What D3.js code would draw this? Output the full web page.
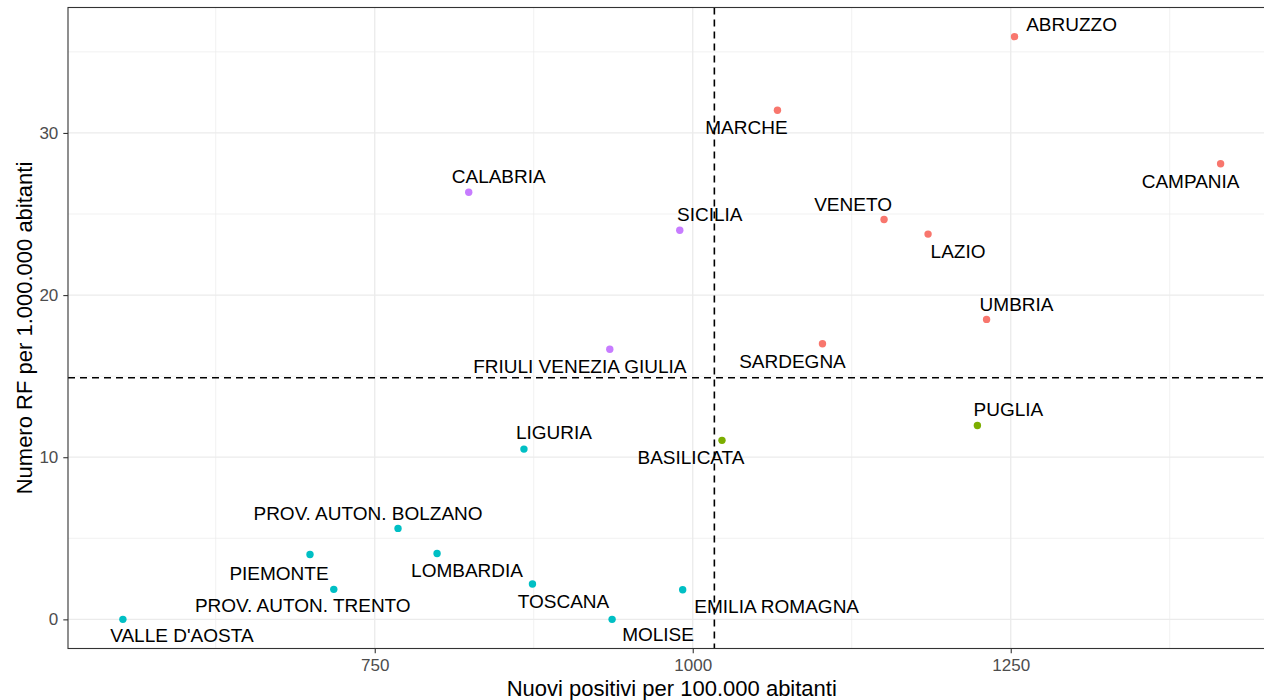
<!DOCTYPE html>
<html>
<head>
<meta charset="utf-8">
<script src="https://cdn.jsdelivr.net/npm/d3@7"></script>
<style>
	body { margin: 0; background: #fff; }
	svg { display: block; font-family: "Liberation Sans", Arial, sans-serif; }
</style>
</head>
<body>
<svg id="chart" width="1264" height="700"></svg>
<script>
// -------------- DATA --------------
const regioni = [
	"ABRUZZO", "CAMPANIA", "LAZIO", "MARCHE", "VENETO", "UMBRIA", "SARDEGNA",
	"PUGLIA", "BASILICATA", "FRIULI VENEZIA GIULIA", "CALABRIA", "SICILIA",
	"LIGURIA", "PROV. AUTON. BOLZANO", "PIEMONTE", "LOMBARDIA",
	"PROV. AUTON. TRENTO", "VALLE D'AOSTA", "TOSCANA", "MOLISE", "EMILIA ROMAGNA"
];
const positivi = [
	1253, 1415, 1185, 1066.6, 1150.4, 1231, 1102,
	1223.8, 1023, 934.8, 823.9, 989.8,
	867.3, 768.3, 699.1, 799,
	717.8, 552, 874, 936.6, 992.1
];
const rf = [
	35.94, 28.1, 23.76, 31.4, 24.66, 18.5, 17.0,
	11.96, 11.04, 16.66, 26.34, 24.0,
	10.5, 5.61, 4.0, 4.06,
	1.85, 0, 2.18, 0, 1.83
];
const gruppo = [
	"alto-alto", "alto-alto", "alto-alto", "alto-alto", "alto-alto", "alto-alto", "alto-alto",
	"alto-basso", "alto-basso", "basso-alto", "basso-alto", "basso-alto",
	"basso-basso", "basso-basso", "basso-basso", "basso-basso",
	"basso-basso", "basso-basso", "basso-basso", "basso-basso", "basso-basso"
];
const sogliaPositivi = 1017;
const sogliaRF = 14.9;
const xTicks = [750, 1000, 1250];
const xMinor = [625, 875, 1125, 1375];
const yTicks = [0, 10, 20, 30];
const yMinor = [5, 15, 25, 35];

const data = regioni.map((r, i) => ({
	regione: r, x: positivi[i], y: rf[i], gruppo: gruppo[i]
}));

// ggrepel-like label placement (pixel nudges from the point)
const labelNudge = {
	"ABRUZZO": [57, -6], "CAMPANIA": [-30, 24], "LAZIO": [30, 24],
	"MARCHE": [-31, 24], "VENETO": [-31, -9], "UMBRIA": [30, -8],
	"SARDEGNA": [-30, 24], "PUGLIA": [31, -9], "BASILICATA": [-31, 24],
	"FRIULI VENEZIA GIULIA": [-30, 24], "CALABRIA": [30, -9], "SICILIA": [30, -9],
	"LIGURIA": [30, -10], "PROV. AUTON. BOLZANO": [-30, -8], "PIEMONTE": [-31, 25],
	"LOMBARDIA": [30, 23], "PROV. AUTON. TRENTO": [-31, 23], "VALLE D'AOSTA": [59, 23],
	"TOSCANA": [31, 24], "MOLISE": [46, 22], "EMILIA ROMAGNA": [94, 23]
};

// -------------- LAYOUT --------------
const panel = { l: 68, r: 1275.5, t: 7.5, b: 648.5 };

const svg = d3.select("#chart");

function expand(ext) {
	let d = (ext[1] - ext[0]) * 0.05;
	return [ext[0] - d, ext[1] + d];
}

let xScale = d3
	.scaleLinear()
	.domain(expand(d3.extent(data, (d) => d.x)))
	.range([panel.l, panel.r]);

let yScale = d3
	.scaleLinear()
	.domain(expand(d3.extent(data, (d) => d.y)))
	.range([panel.b, panel.t]);

let colorScale = d3
	.scaleOrdinal()
	.domain(["alto-alto", "alto-basso", "basso-basso", "basso-alto"])
	.range(["#F8766D", "#7CAE00", "#00BFC4", "#C77CFF"]);

// -------------- GRID --------------
let grid = svg.append("g").attr("class", "grid");

function vLines(vals, w) {
	grid.append("g")
		.selectAll("line")
		.data(vals)
		.join("line")
		.attr("x1", (d) => xScale(d))
		.attr("x2", (d) => xScale(d))
		.attr("y1", panel.t)
		.attr("y2", panel.b)
		.attr("stroke", "#EBEBEB")
		.attr("stroke-width", w);
}
function hLines(vals, w) {
	grid.append("g")
		.selectAll("line")
		.data(vals)
		.join("line")
		.attr("x1", panel.l)
		.attr("x2", panel.r)
		.attr("y1", (d) => yScale(d))
		.attr("y2", (d) => yScale(d))
		.attr("stroke", "#EBEBEB")
		.attr("stroke-width", w);
}
vLines(xMinor, 0.7);
hLines(yMinor, 0.7);
vLines(xTicks, 1.3);
hLines(yTicks, 1.3);

// -------------- REFERENCE LINES --------------
svg.append("line")
	.attr("x1", xScale(sogliaPositivi))
	.attr("x2", xScale(sogliaPositivi))
	.attr("y1", panel.t)
	.attr("y2", panel.b)
	.attr("stroke", "#000")
	.attr("stroke-width", 1.6)
	.attr("stroke-dasharray", "7,5");

svg.append("line")
	.attr("x1", panel.l)
	.attr("x2", panel.r)
	.attr("y1", yScale(sogliaRF))
	.attr("y2", yScale(sogliaRF))
	.attr("stroke", "#000")
	.attr("stroke-width", 1.6)
	.attr("stroke-dasharray", "7,5");

// -------------- POINTS + LABELS --------------
svg.append("g")
	.selectAll("circle")
	.data(data)
	.join("circle")
	.attr("cx", (d) => xScale(d.x))
	.attr("cy", (d) => yScale(d.y))
	.attr("r", 3.7)
	.attr("fill", (d) => colorScale(d.gruppo));

svg.append("g")
	.selectAll("text")
	.data(data)
	.join("text")
	.attr("x", (d) => xScale(d.x) + labelNudge[d.regione][0])
	.attr("y", (d) => yScale(d.y) + labelNudge[d.regione][1])
	.attr("text-anchor", "middle")
	.attr("font-size", 19)
	.attr("fill", "#000")
	.text((d) => d.regione);

// -------------- PANEL BORDER --------------
svg.append("rect")
	.attr("x", panel.l)
	.attr("y", panel.t)
	.attr("width", panel.r - panel.l)
	.attr("height", panel.b - panel.t)
	.attr("fill", "none")
	.attr("stroke", "#333")
	.attr("stroke-width", 1.1);

// -------------- AXES --------------
let xAxis = d3.axisBottom(xScale)
	.tickValues(xTicks)
	.tickFormat(d3.format("d"))
	.tickSize(4.7)
	.tickPadding(6);
let xG = svg.append("g")
	.attr("transform", `translate(0, ${panel.b})`)
	.call(xAxis);
xG.select(".domain").remove();
xG.selectAll(".tick line").attr("stroke", "#333").attr("stroke-width", 1.1);
xG.selectAll(".tick text")
	.attr("font-size", 17)
	.attr("font-family", "Liberation Sans, Arial, sans-serif")
	.attr("fill", "#4D4D4D");

let yAxis = d3.axisLeft(yScale)
	.tickValues(yTicks)
	.tickFormat(d3.format("d"))
	.tickSize(4.7)
	.tickPadding(5);
let yG = svg.append("g")
	.attr("transform", `translate(${panel.l}, 0)`)
	.call(yAxis);
yG.select(".domain").remove();
yG.selectAll(".tick line").attr("stroke", "#333").attr("stroke-width", 1.1);
yG.selectAll(".tick text")
	.attr("font-size", 17)
	.attr("font-family", "Liberation Sans, Arial, sans-serif")
	.attr("fill", "#4D4D4D");

svg.append("text")
	.attr("x", (panel.l + panel.r) / 2)
	.attr("y", 696)
	.attr("text-anchor", "middle")
	.attr("font-size", 22)
	.attr("fill", "#000")
	.text("Nuovi positivi per 100.000 abitanti");

svg.append("text")
	.attr("transform", `translate(31.5, ${(panel.t + panel.b) / 2}) rotate(-90)`)
	.attr("text-anchor", "middle")
	.attr("font-size", 22)
	.attr("fill", "#000")
	.text("Numero RF per 1.000.000 abitanti");
</script>
</body>
</html>
